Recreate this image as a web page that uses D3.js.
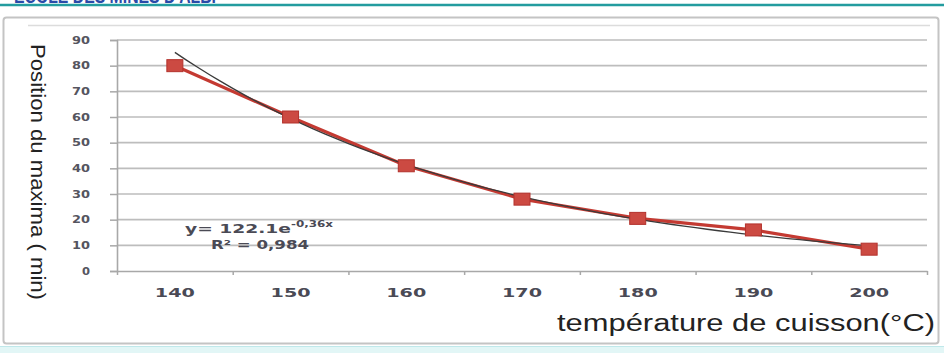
<!DOCTYPE html>
<html>
<head>
<meta charset="utf-8">
<style>
body { margin:0; background:#fff; }
svg { display:block; }
.tick text { font-family:"DejaVu Sans", Verdana, sans-serif; font-weight:bold; fill:#4a4a55; }
</style>
</head>
<body>
<svg id="chart"></svg>
<script src="https://cdnjs.cloudflare.com/ajax/libs/d3/7.8.5/d3.min.js"></script>
<script>
// data
var temperatures = ['140', '150', '160', '170', '180', '190', '200'];
var positions = [80, 60, 41, 28, 20.5, 16, 8.5];
var yTicks = [0, 10, 20, 30, 40, 50, 60, 70, 80, 90];
// trendline shown on the chart: y = 122.1 e^(-0.36 x), x = point index 1..7
var trendA = 122.1, trendB = -0.36;

var W = 944, H = 353;
var plot = {left:117, right:927, top:40, bottom:271};

var svg = d3.select('#chart').attr('width', W).attr('height', H);

// page decorations (header strip, frame, bottom band)
svg.append('text')
  .attr('x', 14).attr('y', 3)
  .attr('textLength', 202).attr('lengthAdjust', 'spacingAndGlyphs')
  .style('font-family', 'Liberation Sans, Arial, sans-serif')
  .style('font-weight', 'bold').style('font-size', '20px')
  .style('fill', '#2a4aa8')
  .text("ECOLE DES MINES D'ALBI");
svg.append('line').attr('x1', 0).attr('x2', W).attr('y1', 5).attr('y2', 5)
  .style('stroke', '#239c9f').style('stroke-width', 2.5);
svg.append('rect').attr('x', 0).attr('y', 346).attr('width', W).attr('height', 7)
  .style('fill', '#e2f6f6');
svg.append('line').attr('x1', 0).attr('x2', W).attr('y1', 346.5).attr('y2', 346.5)
  .style('stroke', '#bfe8ea').style('stroke-width', 1);
svg.append('rect').attr('x', 3.5).attr('y', 17.5).attr('width', 935).attr('height', 326).attr('rx', 3)
  .style('fill', 'none').style('stroke', '#c4c4c4').style('stroke-width', 2);
svg.append('line').attr('x1', 28).attr('x2', 930).attr('y1', 25.5).attr('y2', 25.5)
  .style('stroke', '#dcdcdc').style('stroke-width', 1.5);

// scales
var x = d3.scaleBand().domain(temperatures).range([plot.left, plot.right]);
var xc = function(d) { return x(d) + x.bandwidth() / 2; };
var xIdx = d3.scaleLinear().domain([1, temperatures.length])
  .range([xc(temperatures[0]), xc(temperatures[temperatures.length - 1])]);
var xEdge = d3.scaleLinear().domain([0, temperatures.length]).range([plot.left, plot.right]);
var y = d3.scaleLinear().domain([0, 90]).range([plot.bottom, plot.top]);

// gridlines
svg.append('g').selectAll('line').data(yTicks.slice(1)).enter().append('line')
  .attr('x1', plot.left).attr('x2', plot.right)
  .attr('y1', function(d) { return y(d); }).attr('y2', function(d) { return y(d); })
  .style('stroke', '#bdbdbd').style('stroke-width', 1.6);

// y axis
var yAxis = svg.append('g').attr('transform', 'translate(' + plot.left + ',0)')
  .call(d3.axisLeft(y).tickValues(yTicks).tickSize(7).tickPadding(20));
yAxis.select('.domain').style('stroke', '#a8a8a8').style('stroke-width', 1.6);
yAxis.selectAll('.tick line').style('stroke', '#a8a8a8').style('stroke-width', 1.5);
yAxis.selectAll('.tick text').style('font-size', '10px').style('fill', '#55555f')
  .attr('textLength', function(d) { return d < 10 ? 8 : 18; })
  .attr('lengthAdjust', 'spacingAndGlyphs');

// x axis: boundary ticks + category labels
var xTicks = svg.append('g').attr('transform', 'translate(0,' + plot.bottom + ')')
  .call(d3.axisBottom(xEdge).tickValues(d3.range(temperatures.length + 1)).tickFormat('').tickSize(4).tickSizeOuter(0));
xTicks.select('.domain').style('stroke', '#a8a8a8').style('stroke-width', 1.6);
xTicks.selectAll('.tick line').style('stroke', '#a8a8a8').style('stroke-width', 1.5);

var xLabels = svg.append('g').attr('transform', 'translate(0,' + plot.bottom + ')')
  .call(d3.axisBottom(x).tickSize(0).tickPadding(17));
xLabels.select('.domain').remove();
xLabels.selectAll('.tick text').style('font-size', '13px')
  .attr('textLength', 40).attr('lengthAdjust', 'spacingAndGlyphs');

// data series
var line = d3.line()
  .x(function(d, i) { return xc(temperatures[i]); })
  .y(function(d) { return y(d); });
svg.append('path').datum(positions).attr('d', line)
  .style('fill', 'none').style('stroke', '#c43a32').style('stroke-width', 3.2)
  .style('stroke-linejoin', 'round');

// exponential trendline
var trendPts = d3.range(1, temperatures.length + 0.001, 0.1);
svg.append('path').datum(trendPts)
  .attr('d', d3.line()
    .x(function(t) { return xIdx(t); })
    .y(function(t) { return y(trendA * Math.exp(trendB * t)); }))
  .style('fill', 'none').style('stroke', '#3a3a3a').style('stroke-width', 1.3);

// markers
svg.append('g').selectAll('rect').data(positions).enter().append('rect')
  .attr('x', function(d, i) { return xc(temperatures[i]) - 8; })
  .attr('y', function(d) { return y(d) - 6; })
  .attr('width', 16).attr('height', 12)
  .style('fill', '#cc4a42').style('stroke', '#b3322c').style('stroke-width', 1);

// trendline equation
var eq = svg.append('text').attr('x', 185).attr('y', 233)
  .style('font-family', '"DejaVu Sans", Verdana, sans-serif').style('font-weight', 'bold')
  .style('font-size', '12px').style('fill', '#4a4a55');
eq.append('tspan').text('y= 122.1e').attr('textLength', 106).attr('lengthAdjust', 'spacingAndGlyphs');
eq.append('tspan').attr('dy', -6).style('font-size', '8px')
  .attr('textLength', 42).attr('lengthAdjust', 'spacingAndGlyphs').text('-0,36x');
svg.append('text').attr('x', 211).attr('y', 249)
  .attr('textLength', 98).attr('lengthAdjust', 'spacingAndGlyphs')
  .style('font-family', '"DejaVu Sans", Verdana, sans-serif').style('font-weight', 'bold')
  .style('font-size', '12px').style('fill', '#4a4a55')
  .text('R² = 0,984');

// axis titles
svg.append('text')
  .attr('transform', 'translate(31,' + ((plot.top + 300) / 2 + 2) + ') rotate(90)')
  .attr('text-anchor', 'middle')
  .attr('textLength', 256).attr('lengthAdjust', 'spacingAndGlyphs')
  .style('font-family', 'Liberation Sans, Arial, sans-serif').style('font-size', '21px')
  .style('fill', '#222')
  .text('Position du maxima ( min)');
svg.append('text')
  .attr('x', 557).attr('y', 331)
  .attr('textLength', 378).attr('lengthAdjust', 'spacingAndGlyphs')
  .style('font-family', 'Liberation Sans, Arial, sans-serif').style('font-size', '23px')
  .style('fill', '#222')
  .text('température de cuisson(°C)');
</script>
</body>
</html>
